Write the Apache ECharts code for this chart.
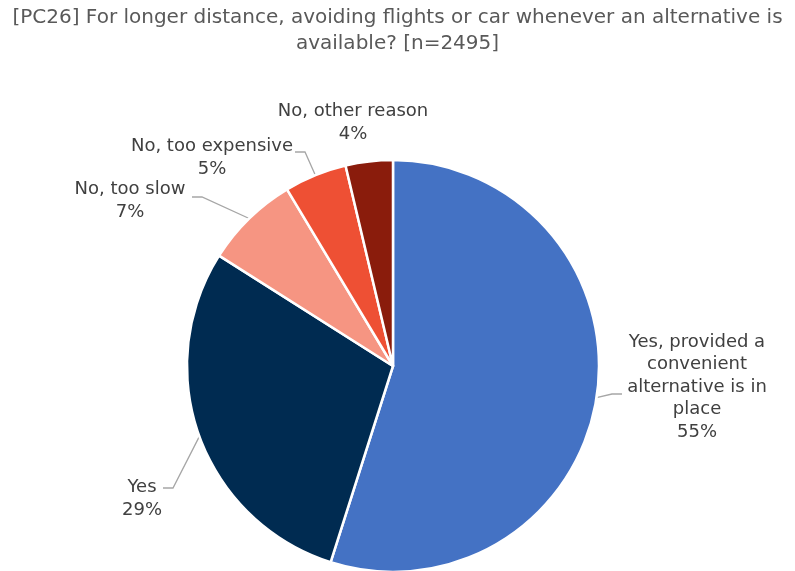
<!DOCTYPE html>
<html>
<head>
<meta charset="utf-8">
<script src="https://cdn.jsdelivr.net/npm/echarts@6/dist/echarts.min.js"></script>
<style>
  html, body { margin: 0; padding: 0; background: #fff; }
  #chart { width: 795px; height: 571px; }
</style>
</head>
<body>
<div id="chart"></div>
<script>
// Survey answers, clockwise from 12 o'clock
const categories = [
  'Yes, provided a\nconvenient\nalternative is in\nplace',
  'Yes',
  'No, too slow',
  'No, too expensive',
  'No, other reason'
];
const shares = [54.9, 29.1, 7.4, 4.9, 3.7];
const sliceColors = ['#4472C4', '#002B51', '#F69582', '#EE5034', '#8A1C0C'];

const titleText = '[PC26] For longer distance, avoiding flights or car whenever an alternative is\navailable? [n=2495]';

// Centre of each label block: [x, y, direction of the short horizontal leader stub]
const labelSpots = [
  [697, 387, -1],
  [142, 499, 1],
  [130, 201, 1],
  [212, 158, 1],
  [353, 123, 0]
];
// attach points of the leader lines on the label side
const leaderEnds = [
  [622, 394],
  [163, 488],
  [192, 197],
  [295, 152],
  null
];

const FONT = "'DejaVu Sans', sans-serif";

const chart = echarts.init(document.getElementById('chart'));

const data = categories.map((name, i) => ({
  name: name,
  value: shares[i],
  itemStyle: { color: sliceColors[i] },
  labelLine: { show: leaderEnds[i] !== null }
}));

chart.setOption({
  animation: false,
  title: {
    text: titleText,
    left: 'center',
    top: 0,
    textStyle: {
      fontFamily: FONT,
      fontSize: 20,
      fontWeight: 'normal',
      color: '#595959',
      lineHeight: 26
    }
  },
  series: [{
    type: 'pie',
    center: [393, 366],
    radius: 206,
    startAngle: 90,
    clockwise: true,
    data: data,
    itemStyle: { borderColor: '#fff', borderWidth: 2.5 },
    label: {
      show: true,
      width: 220,
      overflow: 'none',
      formatter: p => p.name.split('\n').map(s => '{t|' + s + '}').join('\n') + '\n{t|' + Math.round(p.value) + '%}',
      rich: {
        t: {
          fontFamily: FONT,
          fontSize: 18,
          color: '#404040',
          lineHeight: 22.5,
          align: 'center'
        }
      }
    },
    labelLine: {
      show: true,
      lineStyle: { color: '#A6A6A6', width: 1.3 }
    },
    labelLayout: function (params) {
      const i = params.dataIndex;
      const spot = labelSpots[i];
      const out = {
        x: spot[0],
        y: spot[1],
        align: 'center',
        verticalAlign: 'middle'
      };
      const end = leaderEnds[i];
      if (end && params.labelLinePoints) {
        const start = params.labelLinePoints[0];
        const elbow = [end[0] + spot[2] * 10, end[1]];
        out.labelLinePoints = [start, elbow, end];
      }
      return out;
    }
  }]
});
</script>
</body>
</html>
